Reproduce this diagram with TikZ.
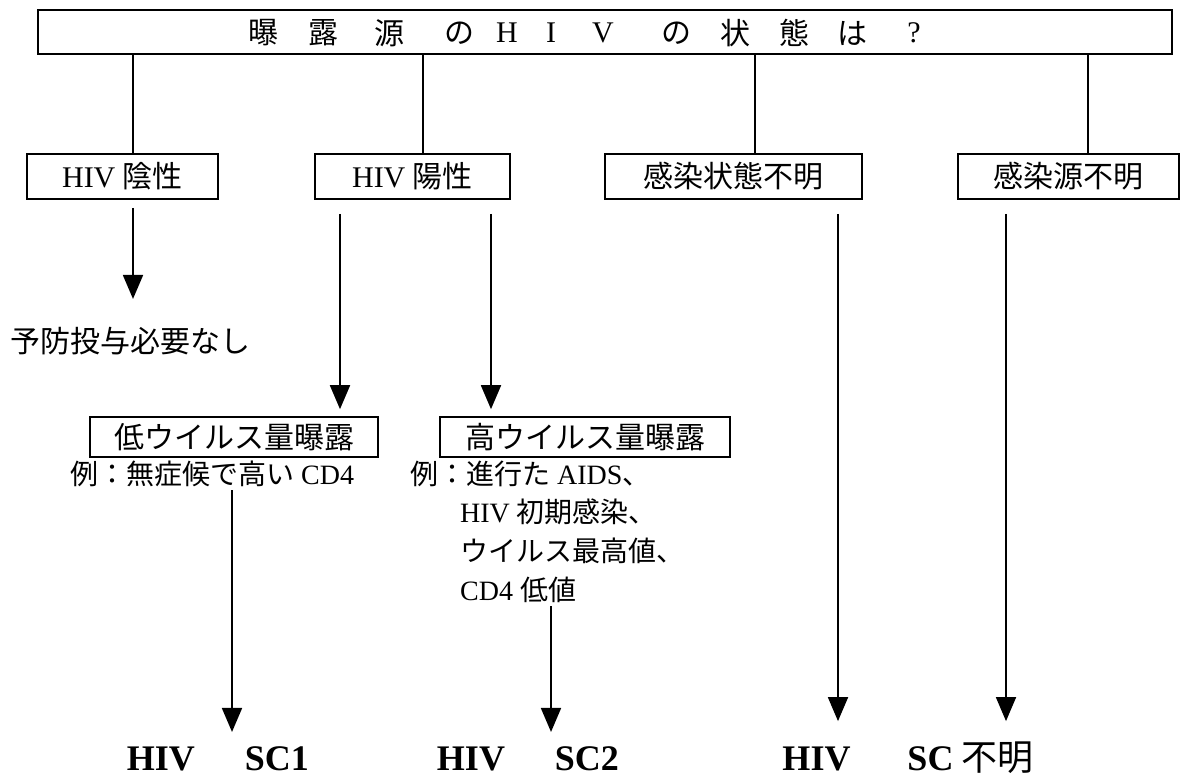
\documentclass[tikz,border=0pt]{standalone}
\usepackage{fontspec}
\setmainfont{Liberation Serif}
\newfontfamily\jp{Noto Sans CJK JP}
\usetikzlibrary{arrows.meta}
\begin{document}
\begin{tikzpicture}[x=1pt,y=-1pt,
  box/.style={draw,line width=1.6pt,inner sep=0pt,font=\fontsize{30}{30}\selectfont},
  conn/.style={line width=1.8pt},
  arr/.style={line width=1.8pt,-{Triangle[width=20pt,length=24pt]}},
  txt/.style={inner sep=0pt,font=\fontsize{28}{28}\selectfont},
  ttl/.style={inner sep=0pt,font=\fontsize{30}{30}\selectfont},
  big/.style={inner sep=0pt,font=\fontsize{36}{36}\selectfont\bfseries}]
\useasboundingbox (0,0) rectangle (1180,778);
% title box
\node[box, minimum width=1134pt, minimum height=44pt] (top) at (605,32) {};
\node[ttl] (t1) at (263,33) {\jp 曝};
\node[ttl] (t2) at (323,33) {\jp 露};
\node[ttl] (t3) at (389,33) {\jp 源};
\node[ttl] (t4) at (459,33) {\jp の};
\node[ttl] (t5) at (507,33) {H};
\node[ttl] (t6) at (551,33) {I};
\node[ttl] (t7) at (603,33) {V};
\node[ttl] (t8) at (676,33) {\jp の};
\node[ttl] (t9) at (735,33) {\jp 状};
\node[ttl] (t10) at (794,33) {\jp 態};
\node[ttl] (t11) at (852,33) {\jp は};
\node[ttl] (t12) at (914,33) {?};
% second row
\node[box, minimum width=191pt, minimum height=45pt] (neg) at (122.5,176.5) {HIV {\jp 陰性}};
\node[box, minimum width=195pt, minimum height=45pt] (pos) at (412.5,176.5) {HIV {\jp 陽性}};
\node[box, minimum width=257pt, minimum height=45pt] (unk) at (733.5,176.5) {\jp 感染状態不明};
\node[box, minimum width=221pt, minimum height=45pt] (src) at (1068.5,176.5) {\jp 感染源不明};
\coordinate (c1) at (133,0);
\coordinate (c2) at (423,0);
\coordinate (c3) at (755,0);
\coordinate (c4) at (1088,0);
\draw[conn] (top.south -| c1) -- (neg.north -| c1);
\draw[conn] (top.south -| c2) -- (pos.north -| c2);
\draw[conn] (top.south -| c3) -- (unk.north -| c3);
\draw[conn] (top.south -| c4) -- (src.north -| c4);
% outcomes
\node[txt, anchor=west, font=\fontsize{30}{30}\selectfont] (none) at (10,341) {\jp 予防投与必要なし};
\node[box, minimum width=288pt, minimum height=40pt] (low) at (234,437) {\jp 低ウイルス量曝露};
\node[box, minimum width=290pt, minimum height=40pt] (high) at (585,437) {\jp 高ウイルス量曝露};
\node[txt, anchor=west] (ex1) at (70,474) {{\jp 例：無症候で高い} CD4};
\node[txt, anchor=west] (ex2a) at (410,474) {{\jp 例：進行た} AIDS{\jp 、}};
\node[txt, anchor=west] (ex2b) at (460,512) {HIV {\jp 初期感染、}};
\node[txt, anchor=west] (ex2c) at (460,551) {\jp ウイルス最高値、};
\node[txt, anchor=west] (ex2d) at (460,590) {CD4 {\jp 低値}};
\node[big, anchor=base] (sc1) at (218,770) {HIV\hspace{50pt}SC1};
\node[big, anchor=base] (sc2) at (528,770) {HIV\hspace{50pt}SC2};
\node[big, anchor=base] (sc3) at (908,770) {HIV\hspace{57pt}SC\hspace{8pt}{\jp\mdseries 不明}};
\coordinate (a1) at (133,0);
\coordinate (a2) at (340,0);
\coordinate (a3) at (491,0);
\coordinate (a4) at (838,0);
\coordinate (a5) at (1006,0);
\coordinate (b1) at (232,0);
\coordinate (b2) at (551,0);
\draw[arr, shorten <=8pt, shorten >=28pt] (neg.south -| a1) -- (none.north -| a1);
\draw[arr, shorten <=14pt, shorten >=7pt] (pos.south -| a2) -- (low.north -| a2);
\draw[arr, shorten <=14pt, shorten >=7pt] (pos.south -| a3) -- (high.north -| a3);
\draw[arr, shorten <=3pt, shorten >=14pt] (ex1.south -| b1) -- (sc1.north -| b1);
\draw[arr, shorten <=3pt, shorten >=14pt] (ex2d.south -| b2) -- (sc2.north -| b2);
\draw[arr, shorten <=14pt, shorten >=20pt] (unk.south -| a4) -- (sc3.north -| a4);
\draw[arr, shorten <=14pt, shorten >=20pt] (src.south -| a5) -- (sc3.north -| a5);
\end{tikzpicture}
\end{document}
